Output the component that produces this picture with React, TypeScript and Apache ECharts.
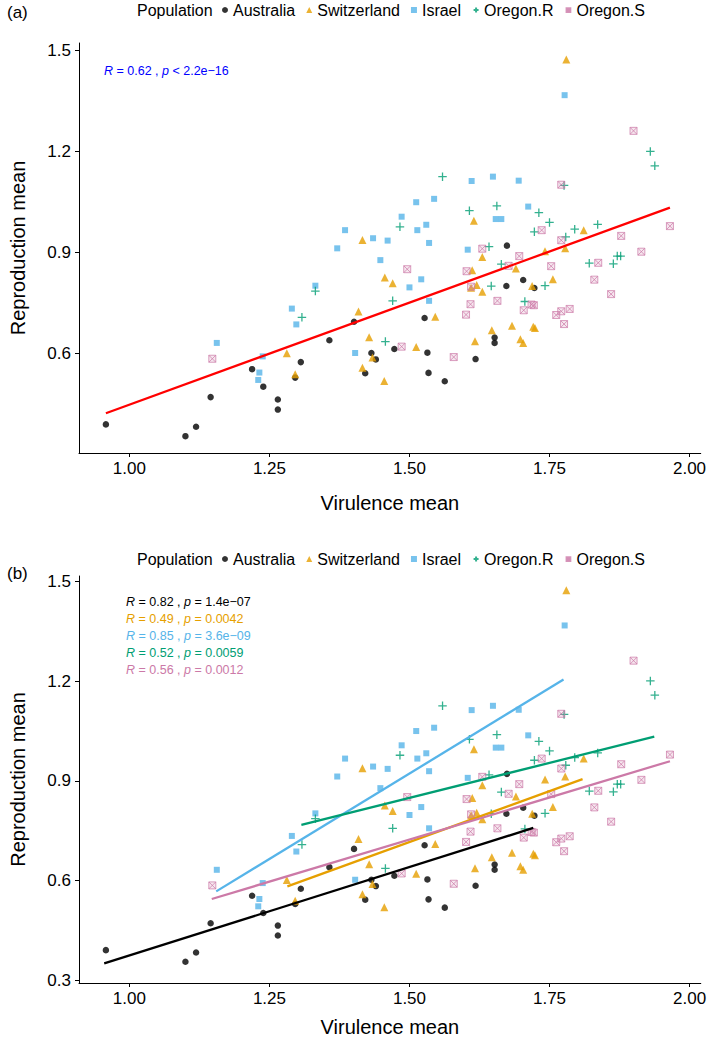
import React, { useEffect, useRef } from "react";
import * as echarts from "echarts";

const populations = ["Australia", "Switzerland", "Israel", "Oregon.R", "Oregon.S"];
const popColors = ["#000000", "#E69F00", "#56B4E9", "#009E73", "#CC79A7"];

// [virulence mean, reproduction mean]
const australia: [number, number][] = [
  [0.958, 0.39], [1.1, 0.355], [1.119, 0.383], [1.145, 0.471], [1.219, 0.554],
  [1.239, 0.502], [1.265, 0.464], [1.265, 0.434], [1.296, 0.529], [1.306, 0.575],
  [1.357, 0.64], [1.401, 0.695], [1.421, 0.542], [1.432, 0.602], [1.44, 0.583],
  [1.473, 0.614], [1.532, 0.603], [1.534, 0.543], [1.527, 0.706], [1.563, 0.518],
  [1.618, 0.584], [1.652, 0.648], [1.652, 0.632], [1.673, 0.801], [1.703, 0.819],
  [1.723, 0.795], [1.674, 0.921],
];
const switzerland: [number, number][] = [
  [1.281, 0.601], [1.296, 0.539], [1.409, 0.725], [1.416, 0.558], [1.416, 0.938],
  [1.428, 0.649], [1.434, 0.589], [1.455, 0.519], [1.456, 0.826], [1.47, 0.809],
  [1.512, 0.62], [1.546, 0.71], [1.61, 0.796], [1.62, 0.804], [1.612, 0.848],
  [1.615, 0.995], [1.617, 0.637], [1.63, 0.784], [1.63, 0.887], [1.647, 0.67],
  [1.683, 0.683], [1.69, 0.853], [1.698, 0.643], [1.703, 0.632], [1.719, 0.801],
  [1.721, 0.68], [1.724, 0.676], [1.742, 0.904], [1.756, 0.821], [1.778, 0.913],
  [1.78, 1.474], [1.811, 0.967],
];
const israel: [number, number][] = [
  [1.156, 0.632], [1.23, 0.522], [1.232, 0.544], [1.238, 0.592], [1.29, 0.734],
  [1.298, 0.687], [1.332, 0.802], [1.371, 0.913], [1.385, 0.967], [1.403, 0.602],
  [1.435, 0.943], [1.448, 0.878], [1.461, 0.936], [1.486, 1.007], [1.5, 0.797],
  [1.512, 1.05], [1.514, 0.967], [1.521, 0.821], [1.53, 0.983], [1.535, 0.929],
  [1.535, 0.757], [1.544, 1.06], [1.604, 0.909], [1.611, 1.113], [1.649, 1.126],
  [1.654, 1.0], [1.664, 1.0], [1.695, 1.114], [1.712, 1.037], [1.777, 1.368],
];
const oregonR: [number, number][] = [
  [1.308, 0.708], [1.332, 0.786], [1.457, 0.636], [1.47, 0.757], [1.483, 0.977],
  [1.559, 1.126], [1.607, 1.025], [1.642, 0.918], [1.646, 0.801], [1.656, 1.039],
  [1.664, 0.866], [1.706, 0.755], [1.723, 0.962], [1.731, 1.019], [1.742, 0.802],
  [1.75, 0.99], [1.776, 1.1], [1.779, 0.947], [1.795, 0.97], [1.821, 0.869],
  [1.836, 0.984], [1.864, 0.867], [1.871, 0.89], [1.877, 0.89], [1.93, 1.201],
  [1.938, 1.158],
];
const oregonS: [number, number][] = [
  [1.148, 0.585], [1.486, 0.621], [1.496, 0.851], [1.579, 0.59], [1.601, 0.716],
  [1.602, 0.845], [1.609, 0.747], [1.61, 0.799], [1.63, 0.912], [1.657, 0.757],
  [1.677, 0.861], [1.696, 0.89], [1.704, 0.729], [1.718, 0.746], [1.722, 0.744],
  [1.736, 0.967], [1.753, 0.86], [1.762, 0.715], [1.771, 0.726], [1.771, 1.102],
  [1.771, 0.937], [1.776, 0.688], [1.786, 0.733], [1.83, 0.82], [1.837, 0.87],
  [1.86, 0.777], [1.878, 0.95], [1.9, 1.262], [1.914, 0.903], [1.965, 0.979],
];
const groups = [australia, switzerland, israel, oregonR, oregonS];

// fitted regression lines (end points)
const overallFit: [number, number][] = [[0.958, 0.423], [1.965, 1.034]];
const australiaFit: [number, number][] = [[0.955, 0.35], [1.721, 0.758]];
const switzerlandFit: [number, number][] = [[1.282, 0.582], [1.809, 0.905]];
const israelFit: [number, number][] = [[1.155, 0.567], [1.775, 1.205]];
const oregonRFit: [number, number][] = [[1.307, 0.767], [1.937, 1.033]];
const oregonSFit: [number, number][] = [[1.147, 0.544], [1.965, 0.959]];
const groupFits = [australiaFit, switzerlandFit, israelFit, oregonRFit, oregonSFit];

const xTicks = [1.0, 1.25, 1.5, 1.75, 2.0];
const yTicksA = [0.6, 0.9, 1.2, 1.5];
const yTicksB = [0.3, 0.6, 0.9, 1.2, 1.5];

const overallR = "0.62";
const overallP = "< 2.2e\u221216";
const groupR = ["0.82", "0.49", "0.85", "0.52", "0.56"];
const groupP = ["= 1.4e\u221207", "= 0.0042", "= 3.6e\u221209", "= 0.0059", "= 0.0012"];

const FONT = "Liberation Sans, Arial, Helvetica, sans-serif";

const symbols = [
  "circle",
  "triangle",
  "rect",
  "path://M5,0V10M0,5H10",
  "path://M0,0H10V10H0ZM0,0L10,10M10,0L0,10",
];
const legendIcons = [
  "circle",
  "triangle",
  "rect",
  "path://M-1,-1L-1,-1M11,11L11,11M5,0V10M0,5H10",
  "path://M-3,-3L-3,-3M13,13L13,13M0,0H10V10H0ZM0,0L10,10M10,0L0,10",
];
const symbolSizes = [6.5, 8, 6, 8.5, 7];

function itemStyleFor(i: number) {
  if (i === 3) return { color: "transparent", borderColor: popColors[3], borderWidth: 1.3 };
  if (i === 4)
    return { color: "rgba(204,121,167,0.22)", borderColor: popColors[4], borderWidth: 0.9 };
  return { color: popColors[i] };
}

function makeAxes(idx: number, ymin: number, ymax: number, yTicks: number[], nameGapX: number) {
  const xAxis = {
    type: "value",
    gridIndex: idx,
    min: 0.91,
    max: 2.02,
    name: "Virulence mean",
    nameLocation: "middle",
    nameGap: nameGapX,
    nameTextStyle: { fontSize: 20, color: "#000", fontFamily: FONT },
    axisLine: { show: true, lineStyle: { color: "#000", width: 1 } },
    axisTick: { show: true, length: 4, lineStyle: { color: "#000" }, customValues: xTicks },
    axisLabel: {
      fontSize: 17,
      color: "#000",
      fontFamily: FONT,
      margin: 7,
      customValues: xTicks,
      formatter: (v: number) => v.toFixed(2),
    },
    splitLine: { show: false },
  };
  const yAxis = {
    type: "value",
    gridIndex: idx,
    min: ymin,
    max: ymax,
    name: "Reproduction mean",
    nameLocation: "middle",
    nameGap: 51,
    nameTextStyle: { fontSize: 20, color: "#000", fontFamily: FONT },
    axisLine: { show: true, lineStyle: { color: "#000", width: 1 } },
    axisTick: { show: true, length: 4, lineStyle: { color: "#000" }, customValues: yTicks },
    axisLabel: {
      fontSize: 17,
      color: "#000",
      fontFamily: FONT,
      margin: 8,
      customValues: yTicks,
      formatter: (v: number) => v.toFixed(1),
    },
    splitLine: { show: false },
  };
  return { xAxis, yAxis };
}

function corText(r: string, p: string, x: number, y: number, color: string) {
  return {
    type: "text",
    style: {
      x,
      y,
      text: `{i|R} = ${r} , {i|p} ${p}`,
      fill: color,
      fontSize: 12.5,
      fontFamily: FONT,
      textVerticalAlign: "middle",
      rich: { i: { fontStyle: "italic", fontSize: 12.5, fill: color, fontFamily: FONT } },
    },
  };
}

export default function App() {
  const ref = useRef<HTMLDivElement>(null);
  useEffect(() => {
    if (!ref.current) return;
    const chart = echarts.init(ref.current, undefined, { renderer: "svg" });
    const a = makeAxes(0, 0.305, 1.523, yTicksA, 40);
    const b = makeAxes(1, 0.291, 1.517, yTicksB, 34);

    const series: any[] = [];
    [0, 1].forEach((panel) => {
      groups.forEach((g, i) => {
        series.push({
          type: "scatter",
          name: populations[i],
          xAxisIndex: panel,
          yAxisIndex: panel,
          data: g,
          symbol: symbols[i],
          symbolSize: symbolSizes[i],
          itemStyle: itemStyleFor(i),
          z: 2,
          silent: true,
        });
      });
    });
    series.push({
      type: "line",
      name: "fit-all",
      xAxisIndex: 0,
      yAxisIndex: 0,
      data: overallFit,
      symbol: "none",
      lineStyle: { color: "#FF0000", width: 2.3 },
      itemStyle: { color: "#FF0000" },
      z: 5,
      silent: true,
    });
    groupFits.forEach((f, i) => {
      series.push({
        type: "line",
        name: "fit-" + populations[i],
        xAxisIndex: 1,
        yAxisIndex: 1,
        data: f,
        symbol: "none",
        lineStyle: { color: popColors[i], width: 2.3 },
        itemStyle: { color: popColors[i] },
        z: 5,
        silent: true,
      });
    });

    const legendBase = {
      left: 222,
      orient: "horizontal",
      itemWidth: 6,
      itemHeight: 6,
      itemGap: 11,
      padding: 0,
      selectedMode: false,
      data: populations.map((name, i) => ({ name, icon: legendIcons[i] })),
      textStyle: { fontSize: 16, color: "#000", fontFamily: FONT },
    };

    const graphic: any[] = [
      { type: "text", style: { x: 137, y: 10, text: "Population", fontSize: 16, fontFamily: FONT, fill: "#000", textVerticalAlign: "middle" } },
      { type: "text", style: { x: 137, y: 559, text: "Population", fontSize: 16, fontFamily: FONT, fill: "#000", textVerticalAlign: "middle" } },
      { type: "text", style: { x: 7, y: 12, text: "(a)", fontSize: 17, fontFamily: FONT, fill: "#000", textVerticalAlign: "middle" } },
      { type: "text", style: { x: 7, y: 573, text: "(b)", fontSize: 17, fontFamily: FONT, fill: "#000", textVerticalAlign: "middle" } },
      corText(overallR, overallP, 104, 71, "#0000FF"),
    ];
    groupR.forEach((r, i) => {
      graphic.push(corText(r, groupP[i], 126, 602 + i * 17, popColors[i]));
    });

    chart.setOption({
      animation: false,
      backgroundColor: "#ffffff",
      textStyle: { fontFamily: FONT },
      grid: [
        { left: 75, right: 7, top: 43, bottom: 1038 - 453 },
        { left: 73, right: 8, top: 576, bottom: 1038 - 986 },
      ],
      xAxis: [a.xAxis, b.xAxis],
      yAxis: [a.yAxis, b.yAxis],
      legend: [
        { ...legendBase, top: 2 },
        { ...legendBase, top: 551 },
      ],
      graphic,
      series,
    });
    return () => chart.dispose();
  }, []);
  return (
    <div
      ref={ref}
      style={{ position: "fixed", left: 0, top: 0, width: 709, height: 1038, background: "#fff" }}
    />
  );
}
